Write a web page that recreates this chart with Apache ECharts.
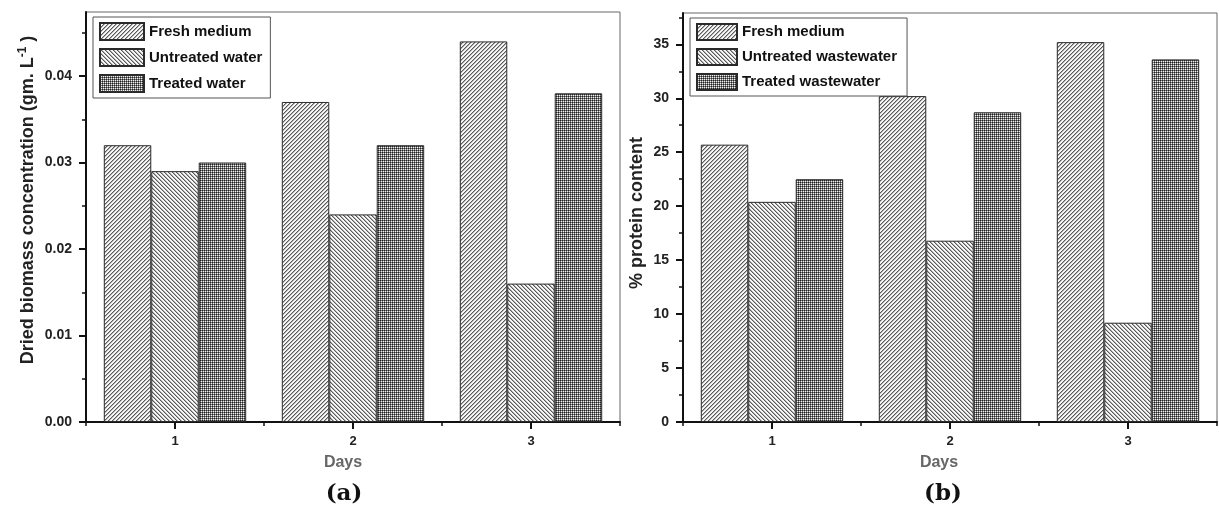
<!DOCTYPE html>
<html>
<head>
<meta charset="utf-8">
<script src="https://cdn.jsdelivr.net/npm/echarts@6/dist/echarts.min.js"></script>
<style>html,body{margin:0;padding:0;background:#fff;}#c{width:1219px;height:511px;}</style>
</head>
<body>
<div id="c"></div>
<script>
// ---- data ----
const days = ['1', '2', '3'];
const leftNames = ['Fresh medium', 'Untreated water', 'Treated water'];
const rightNames = ['Fresh medium', 'Untreated wastewater', 'Treated wastewater'];
const leftFresh = [0.032, 0.037, 0.044];
const leftUntreated = [0.029, 0.024, 0.016];
const leftTreated = [0.030, 0.032, 0.038];
const rightFresh = [25.7, 30.2, 35.2];
const rightUntreated = [20.4, 16.8, 9.2];
const rightTreated = [22.5, 28.7, 33.6];
const leftMajorTicks = [0, 0.01, 0.02, 0.03, 0.04];
const leftMinorTicks = [0.005, 0.015, 0.025, 0.035, 0.045];
const rightMajorTicks = [0, 5, 10, 15, 20, 25, 30, 35];
const rightMinorTicks = [2.5, 7.5, 12.5, 17.5, 22.5, 27.5, 32.5, 37.5];
const leftMax = 0.0474;
const rightMax = 37.9;

// ---- patterns ----
function makeTile(size, fn) {
  const c = document.createElement('canvas');
  c.width = size; c.height = size;
  const ctx = c.getContext('2d');
  for (let y = 0; y < size; y++) for (let x = 0; x < size; x++) {
    ctx.fillStyle = fn(x, y); ctx.fillRect(x, y, 1, 1);
  }
  return c;
}
const stripe = ['#5a5a5a', '#b0b0b0', '#fafafa', '#f2f2f2'];
const freshTile = makeTile(4, (x, y) => stripe[(x + y) % 4]);
const untreatedTile = makeTile(4, (x, y) => stripe[(x - y + 8) % 4]);
const treatedTile = makeTile(2, (x, y) => (x === 0 && y === 0) ? '#222222' : (x === 1 && y === 1) ? '#f0f0f0' : '#767676');
const pats = [
  { image: freshTile, repeat: 'repeat' },
  { image: untreatedTile, repeat: 'repeat' },
  { image: treatedTile, repeat: 'repeat' }
];

const FONT = "'Liberation Sans', Arial, sans-serif";
const labelStyle = { fontFamily: FONT, fontWeight: 'bold', fontSize: 14, color: '#222' };

function majorY(grid, ticks, max, fmt) {
  return {
    type: 'value', gridIndex: grid, min: 0, max: max,
    axisLine: { show: true, lineStyle: { color: '#111', width: 2 } },
    axisTick: { show: true, length: 7, lineStyle: { color: '#111', width: 2 }, customValues: ticks },
    axisLabel: Object.assign({ margin: 14, customValues: ticks, formatter: fmt }, labelStyle),
    splitLine: { show: false }
  };
}
function minorY(grid, ticks, max) {
  return {
    type: 'value', gridIndex: grid, min: 0, max: max, position: 'left',
    axisLine: { show: false },
    axisTick: { show: true, length: 4, lineStyle: { color: '#111', width: 1.5 }, customValues: ticks },
    axisLabel: { show: false },
    splitLine: { show: false }
  };
}
function majorX(grid) {
  return {
    type: 'category', gridIndex: grid, data: days,
    axisLine: { show: true, lineStyle: { color: '#111', width: 2 } },
    axisTick: { show: true, alignWithLabel: true, length: 7, lineStyle: { color: '#111', width: 2 } },
    axisLabel: Object.assign({ margin: 13 }, labelStyle, { fontSize: 13 }),
    splitLine: { show: false }
  };
}
function minorX(grid) {
  return {
    type: 'category', gridIndex: grid, data: days, position: 'bottom',
    axisLine: { show: false },
    axisTick: { show: true, alignWithLabel: false, length: 4, lineStyle: { color: '#111', width: 1.5 } },
    axisLabel: { show: false },
    splitLine: { show: false }
  };
}
function barSeries(name, data, idx, xi, yi) {
  return {
    type: 'bar', name: name, data: data, xAxisIndex: xi, yAxisIndex: yi,
    barGap: '0%', barCategoryGap: '20%',
    itemStyle: { color: pats[idx], borderColor: '#2a2a2a', borderWidth: 1 }
  };
}
const legendBase = {
  orient: 'vertical', icon: 'rect', selectedMode: false,
  borderColor: '#555', borderWidth: 1, backgroundColor: '#fff',
  itemGap: 7,
  textStyle: { fontFamily: FONT, fontWeight: 'bold', fontSize: 15, color: '#111' }
};

const option = {
  animation: false,
  backgroundColor: '#fff',
  grid: [
    { left: 86, top: 12, width: 534, height: 410, show: true, borderColor: '#666', borderWidth: 1 },
    { left: 683, top: 13, width: 534, height: 409, show: true, borderColor: '#666', borderWidth: 1 }
  ],
  xAxis: [majorX(0), minorX(0), majorX(1), minorX(1)],
  yAxis: [
    majorY(0, leftMajorTicks, leftMax, v => v.toFixed(2)),
    minorY(0, leftMinorTicks, leftMax),
    majorY(1, rightMajorTicks, rightMax, v => String(v)),
    minorY(1, rightMinorTicks, rightMax)
  ],
  legend: [
    Object.assign({}, legendBase, { left: 93, top: 17, padding: [5, 8, 5, 6], itemWidth: 44, itemHeight: 17, data: leftNames }),
    Object.assign({}, legendBase, { left: 690, top: 18, padding: [5, 10, 5, 6], itemWidth: 40, itemHeight: 16, data: rightNames })
  ],
  series: [
    barSeries(leftNames[0], leftFresh, 0, 0, 0),
    barSeries(leftNames[1], leftUntreated, 1, 0, 0),
    barSeries(leftNames[2], leftTreated, 2, 0, 0),
    barSeries(rightNames[0], rightFresh, 0, 2, 2),
    barSeries(rightNames[1], rightUntreated, 1, 2, 2),
    barSeries(rightNames[2], rightTreated, 2, 2, 2)
  ],
  graphic: [
    { type: 'text', x: 28, y: 200, rotation: Math.PI / 2,
      style: { text: '{b|Dried biomass concentration (gm. L}{s|-1}{b| )}', textAlign: 'center', textVerticalAlign: 'middle',
        rich: { b: { fontFamily: FONT, fontWeight: 'bold', fontSize: 18, fill: '#222', lineHeight: 22 },
                s: { fontFamily: FONT, fontWeight: 'bold', fontSize: 12, fill: '#222', verticalAlign: 'top', lineHeight: 22 } } } },
    { type: 'text', x: 637, y: 213, rotation: Math.PI / 2,
      style: { text: '% protein content', textAlign: 'center', textVerticalAlign: 'middle',
        fontFamily: FONT, fontWeight: 'bold', fontSize: 18, fill: '#222' } },
    { type: 'text', x: 343, y: 463, style: { text: 'Days', textAlign: 'center', textVerticalAlign: 'middle', fontFamily: FONT, fontWeight: 'bold', fontSize: 16, fill: '#666' } },
    { type: 'text', x: 939, y: 463, style: { text: 'Days', textAlign: 'center', textVerticalAlign: 'middle', fontFamily: FONT, fontWeight: 'bold', fontSize: 16, fill: '#666' } },
    { type: 'text', x: 344, y: 494, style: { text: '(a)', textAlign: 'center', textVerticalAlign: 'middle', fontFamily: "'DejaVu Serif', serif", fontWeight: 'bold', fontSize: 23, fill: '#111' } },
    { type: 'text', x: 943, y: 494, style: { text: '(b)', textAlign: 'center', textVerticalAlign: 'middle', fontFamily: "'DejaVu Serif', serif", fontWeight: 'bold', fontSize: 23, fill: '#111' } }
  ]
};
const chart = echarts.init(document.getElementById('c'), null, { renderer: 'canvas' });
chart.setOption(option);
</script>
</body>
</html>
